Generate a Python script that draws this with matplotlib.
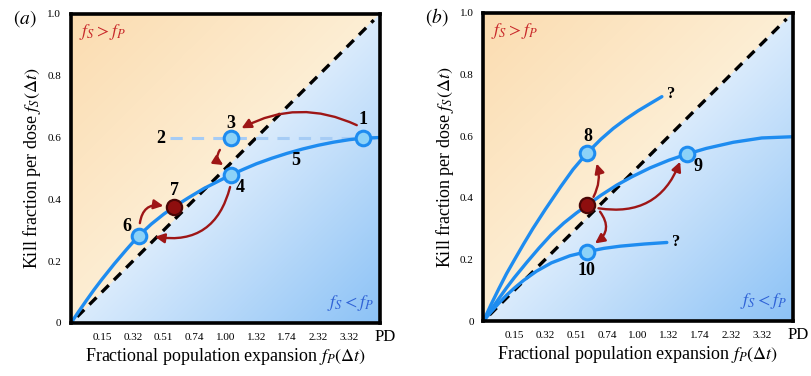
import matplotlib
matplotlib.use("Agg")
import matplotlib.pyplot as plt
import numpy as np

# ---- data ----
# x axis: fractional population expansion fP, labelled with population doublings
fp_ticks = [0.1, 0.2, 0.3, 0.4, 0.5, 0.6, 0.7, 0.8, 0.9]
pd_labels = ["0.15", "0.32", "0.51", "0.74", "1.00", "1.32", "1.74", "2.32", "3.32"]
fs_ticks = [0, 0.2, 0.4, 0.6, 0.8, 1.0]
fs_labels = ["0", "0.2", "0.4", "0.6", "0.8", "1.0"]

# panel (a): dose-response curve 5
curve_a_x = [0, 0.025, 0.05, 0.075, 0.10, 0.14, 0.18, 0.219, 0.26, 0.30, 0.334, 0.38,
             0.43, 0.517, 0.56, 0.60, 0.65, 0.70, 0.75, 0.80, 0.85, 0.90, 0.944, 1.0]
curve_a_y = [0, 0.037, 0.073, 0.108, 0.141, 0.191, 0.238, 0.282, 0.320, 0.352, 0.376, 0.405,
             0.435, 0.479, 0.498, 0.515, 0.533, 0.549, 0.563, 0.575, 0.585, 0.593, 0.598, 0.600]
# fixed-kill line (point 2)
line2_x = [0.32, 1.0]
line2_y = [0.60, 0.60]
# numbered states in panel (a)
pts_a = {"1": (0.944, 0.598), "3": (0.517, 0.600), "4": (0.517, 0.479), "6": (0.219, 0.282)}
pt7 = (0.334, 0.376)

# panel (b): three candidate curves
up_x = [0, 0.025, 0.05, 0.075, 0.10, 0.13, 0.16, 0.20, 0.25, 0.29, 0.334, 0.38,
        0.42, 0.46, 0.50, 0.54, 0.577]
up_y = [0, 0.054, 0.105, 0.154, 0.198, 0.250, 0.300, 0.362, 0.436, 0.492, 0.544, 0.590,
        0.625, 0.655, 0.682, 0.706, 0.728]
mid_x = [0, 0.025, 0.05, 0.075, 0.10, 0.14, 0.18, 0.219, 0.26, 0.30, 0.336, 0.38,
         0.431, 0.48, 0.539, 0.60, 0.659, 0.72, 0.808, 0.90, 1.0]
mid_y = [0, 0.037, 0.073, 0.108, 0.141, 0.190, 0.237, 0.280, 0.318, 0.350, 0.376, 0.408,
         0.441, 0.468, 0.497, 0.522, 0.542, 0.560, 0.580, 0.594, 0.598]
low_x = [0, 0.025, 0.05, 0.075, 0.10, 0.13, 0.172, 0.22, 0.28, 0.334, 0.39, 0.442, 0.52, 0.593]
low_y = [0, 0.030, 0.058, 0.084, 0.107, 0.132, 0.162, 0.189, 0.212, 0.225, 0.236, 0.243, 0.250, 0.255]
pts_b = {"8": (0.334, 0.544), "9": (0.659, 0.542), "10": (0.334, 0.225)}
pt_b = (0.336, 0.376)

BLUE = "#1E8CF0"
FILL = "#8CD2F8"
RED = "#9E1616"

plt.rcParams["font.family"] = ["Liberation Serif", "DejaVu Serif"]
plt.rcParams["mathtext.fontset"] = "stix"

fig = plt.figure(figsize=(8.11, 3.76), dpi=100)
ax_a = fig.add_axes([0.0875, 0.141, 0.381, 0.822])
ax_b = fig.add_axes([0.596, 0.146, 0.3815, 0.820])


def background(ax):
    n = 300
    g = np.linspace(0, 1, n)
    X, Y = np.meshgrid(g, g)
    t = Y - X
    orange_near = np.array([253, 238, 212]) / 255
    orange_far = np.array([251, 220, 176]) / 255
    blue_near = np.array([218, 235, 252]) / 255
    blue_far = np.array([140, 194, 246]) / 255
    tu = np.clip(t, 0, 1)[..., None]
    tl = np.clip(-t, 0, 1)[..., None]
    img_up = orange_near + (orange_far - orange_near) * tu
    img_lo = blue_near + (blue_far - blue_near) * tl
    img = np.where((t >= 0)[..., None], img_up, img_lo)
    ax.imshow(img, extent=[0, 1, 0, 1], origin="lower", aspect="auto", zorder=0)


def frame(ax, label):
    background(ax)
    ax.set_xlim(0, 1)
    ax.set_ylim(0, 1)
    ax.plot([0.02, 0.98], [0.02, 0.98], color="black", lw=2.4, ls=(0, (3, 2.2)), zorder=2)
    for s in ax.spines.values():
        s.set_linewidth(2.6)
        s.set_color("black")
        s.set_zorder(10)
    ax.set_xticks(fp_ticks)
    ax.set_xticklabels(pd_labels, fontsize=8)
    ax.set_yticks(fs_ticks)
    ax.set_yticklabels(fs_labels, fontsize=8)
    ax.tick_params(length=0, pad=7)
    ax.text(1.016, -0.045, "PD", transform=ax.transAxes, fontsize=12,
            ha="center", va="center")
    ax.set_xlabel(r"Fractional population expansion $f_P(\Delta t)$", fontsize=13, labelpad=3)
    ax.set_ylabel(r"Kill fraction per dose $f_S(\Delta t)$", fontsize=13, labelpad=3)
    ax.text(0.025, 0.94, r"$f_S > f_P$", transform=ax.transAxes, fontsize=13,
            color="#C8282A", va="center", ha="left")
    ax.text(0.98, 0.065, r"$f_S < f_P$", transform=ax.transAxes, fontsize=13,
            color="#2F62D6", va="center", ha="right")
    ax.text(-0.15, 0.985, label, transform=ax.transAxes, fontsize=14,
            va="center", ha="center")


def marker(ax, xy, dark=False):
    if dark:
        ax.plot(*xy, "o", ms=11, mfc="#8E0E0E", mec="#4A0606", mew=1.6, zorder=6)
    else:
        ax.plot(*xy, "o", ms=10.5, mfc=FILL, mec=BLUE, mew=2.2, zorder=6)


def arrow(ax, start, end, rad):
    ax.annotate("", xy=end, xytext=start,
                arrowprops=dict(arrowstyle="-|>", color=RED, lw=1.7,
                                mutation_scale=14, shrinkA=0, shrinkB=0,
                                connectionstyle=f"arc3,rad={rad}"),
                zorder=7)


def num(ax, xy, s, size=13):
    ax.text(xy[0], xy[1], s, fontsize=size, fontweight="bold",
            ha="center", va="center", zorder=8)


# ---- panel (a) ----
frame(ax_a, r"$(a)$")
ax_a.plot(line2_x, line2_y, color="#A6CCF5", lw=2.2, ls=(0, (4, 3)), zorder=3)
ax_a.plot(curve_a_x, curve_a_y, color=BLUE, lw=2.4, zorder=4, solid_capstyle="round")
for k, xy in pts_a.items():
    marker(ax_a, xy)
marker(ax_a, pt7, dark=True)

arrow(ax_a, (0.925, 0.640), (0.552, 0.630), 0.25)
arrow(ax_a, (0.482, 0.560), (0.493, 0.511), 0.5)
arrow(ax_a, (0.515, 0.440), (0.272, 0.279), -0.45)
arrow(ax_a, (0.223, 0.323), (0.299, 0.379), -0.5)

num(ax_a, (0.944, 0.657), "1")
num(ax_a, (0.290, 0.598), "2")
num(ax_a, (0.517, 0.646), "3")
num(ax_a, (0.548, 0.437), "4")
num(ax_a, (0.728, 0.525), "5")
num(ax_a, (0.180, 0.312), "6")
num(ax_a, (0.334, 0.428), "7")

# ---- panel (b) ----
frame(ax_b, r"$(b)$")
for xs, ys in [(up_x, up_y), (mid_x, mid_y), (low_x, low_y)]:
    ax_b.plot(xs, ys, color=BLUE, lw=2.4, zorder=4, solid_capstyle="round")
for k, xy in pts_b.items():
    marker(ax_b, xy)
marker(ax_b, pt_b, dark=True)

arrow(ax_b, (0.356, 0.403), (0.366, 0.511), 0.2)
arrow(ax_b, (0.372, 0.366), (0.636, 0.517), 0.4)
arrow(ax_b, (0.377, 0.355), (0.361, 0.252), -0.5)

num(ax_b, (0.337, 0.598), "8")
num(ax_b, (0.695, 0.500), "9")
num(ax_b, (0.334, 0.163), "10")
num(ax_b, (0.606, 0.735), "?", 12)
num(ax_b, (0.624, 0.258), "?", 12)

fig.savefig("out.png", dpi=100)
